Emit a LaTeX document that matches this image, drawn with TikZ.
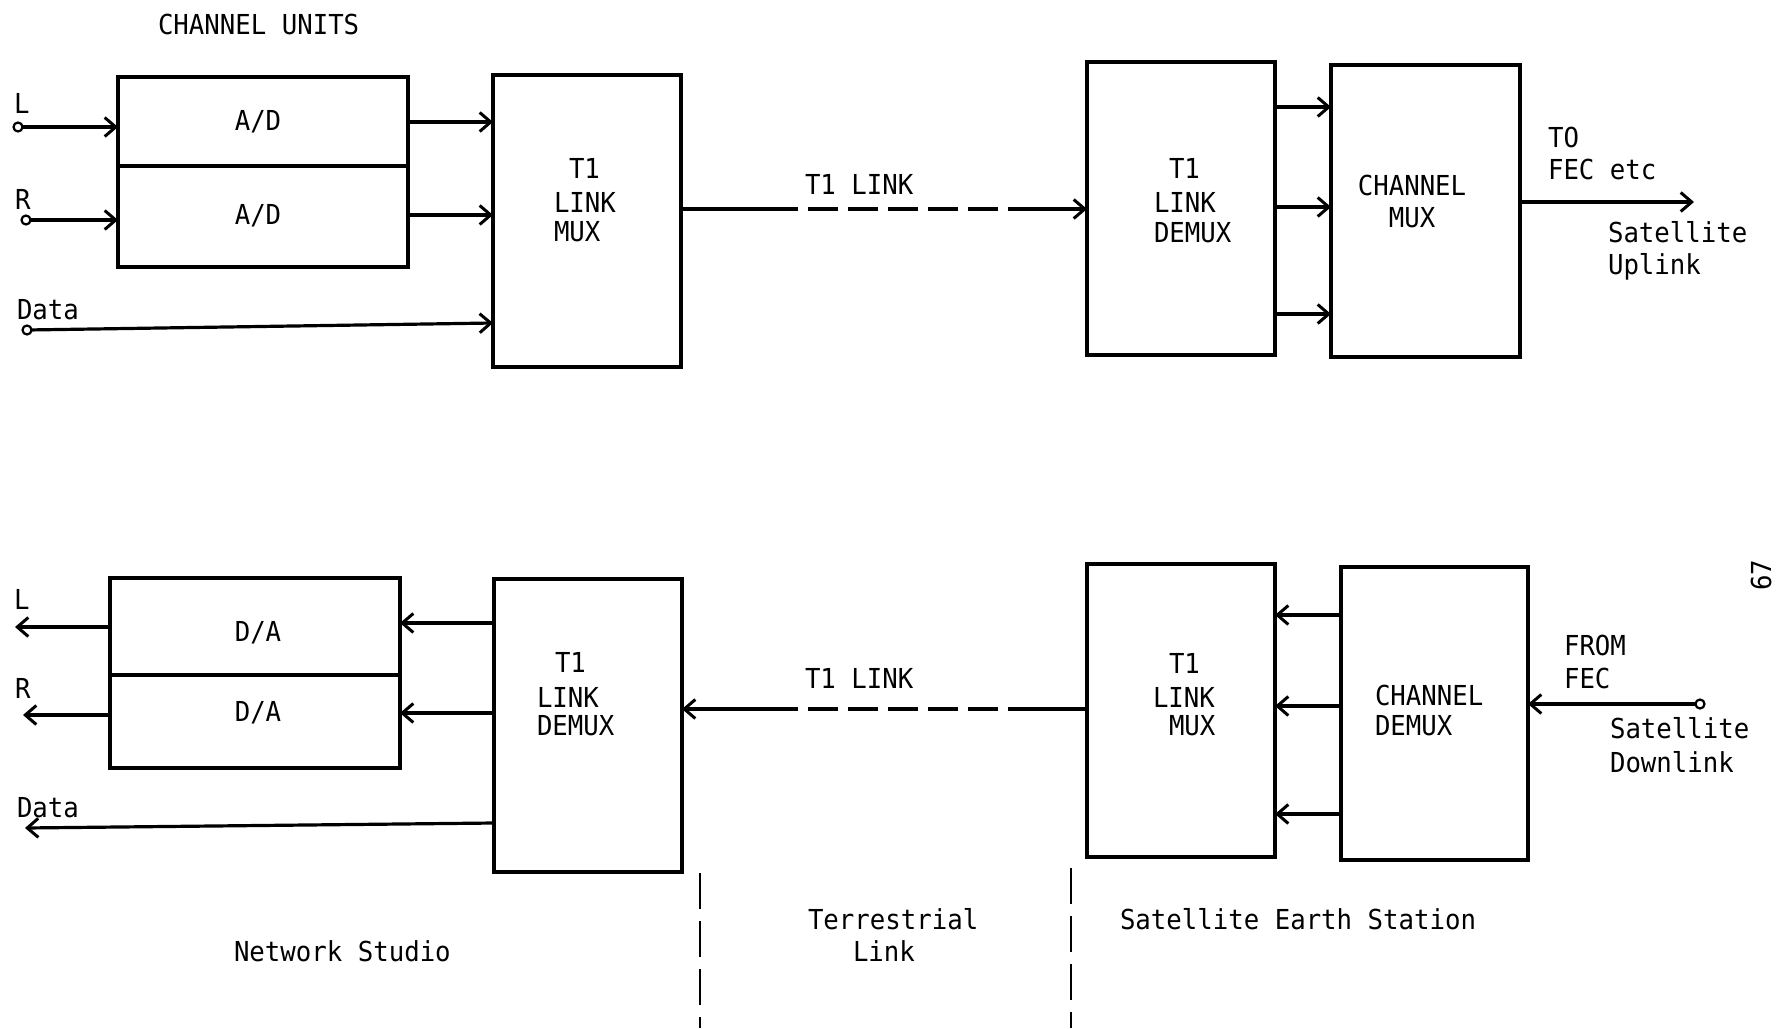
\documentclass[tikz,border=0pt]{standalone}
\usepackage{fontspec}
\setmainfont{DejaVu Sans Mono}[FakeStretch=0.935]
\usetikzlibrary{arrows.meta}
\begin{document}
\begin{tikzpicture}[x=1pt,y=-1pt,
  lbl/.style={font=\fontsize{27.5pt}{31pt}\selectfont, inner sep=0pt, outer sep=0pt},
  box/.style={draw, line width=3.4pt, inner sep=0pt, outer sep=0pt},
  wire/.style={line width=3.2pt},
  arr/.style={wire, -{Straight Barb[length=11pt,width=19pt,line width=3pt]}},
  term/.style={circle, draw, line width=2.2pt, minimum size=9pt, inner sep=0pt, outer sep=0pt},
  linkdash/.style={wire, dash pattern=on 30pt off 10pt},
  sepline/.style={line width=2.8pt, dash pattern=on 36pt off 12pt}]
\fill[white] (0,0) rectangle (1777,1028);
\useasboundingbox (0,0) rectangle (1777,1028);

% ---------- top row boxes ----------
\node[box, minimum width=290pt, minimum height=190pt] (ad) at (263,172) {};
\node[box, minimum width=188pt, minimum height=292pt] (mux1) at (587,221) {};
\node[box, minimum width=188pt, minimum height=293pt] (demux1) at (1181,208.5) {};
\node[box, minimum width=189pt, minimum height=292pt] (chmux) at (1425.5,211) {};
\coordinate (yADdiv) at (0,166);
\draw[line width=3.4pt] (ad.west |- yADdiv) -- (ad.east |- yADdiv);

% ---------- bottom row boxes ----------
\node[box, minimum width=290pt, minimum height=190pt] (da) at (255,673) {};
\node[box, minimum width=188pt, minimum height=293pt] (demux2) at (588,725.5) {};
\node[box, minimum width=188pt, minimum height=293pt] (mux2) at (1181,710.5) {};
\node[box, minimum width=187pt, minimum height=293pt] (chdemux) at (1434.5,713.5) {};
\coordinate (yDAdiv) at (0,675);
\draw[line width=3.4pt] (da.west |- yDAdiv) -- (da.east |- yDAdiv);

% ---------- top connectors ----------
\node[term] (tL) at (18,127) {};
\draw[arr] (tL) -- (tL -| ad.west);
\node[term] (tR) at (26,220) {};
\draw[arr] (tR) -- (tR -| ad.west);
\node[term] (tD) at (27,330) {};
\coordinate (yDin) at (0,323);
\draw[arr] (tD) -- (mux1.west |- yDin);
\coordinate (yA1) at (0,122);
\coordinate (yA2) at (0,215);
\draw[arr] (ad.east |- yA1) -- (mux1.west |- yA1);
\draw[arr] (ad.east |- yA2) -- (mux1.west |- yA2);
% T1 link (top)
\coordinate (l1a) at (798,209);
\coordinate (l1b) at (808,209);
\coordinate (l1c) at (998,209);
\coordinate (l1d) at (1008,209);
\draw[wire] (mux1.east |- l1a) -- (l1a);
\draw[linkdash] (l1b) -- (l1c);
\draw[arr] (l1d) -- (l1d -| demux1.west);
% demux -> channel mux
\coordinate (yC1) at (0,107);
\coordinate (yC2) at (0,207);
\coordinate (yC3) at (0,314);
\draw[arr] (demux1.east |- yC1) -- (chmux.west |- yC1);
\draw[arr] (demux1.east |- yC2) -- (chmux.west |- yC2);
\draw[arr] (demux1.east |- yC3) -- (chmux.west |- yC3);
\coordinate (up) at (1694,202);
\draw[arr] (chmux.east |- up) -- (up);

% ---------- bottom connectors ----------
\coordinate (oL) at (15,627);
\coordinate (oR) at (23,715);
\coordinate (oD) at (25,828);
\draw[arr] (da.west |- oL) -- (oL);
\draw[arr] (da.west |- oR) -- (oR);
\coordinate (yDout) at (0,823);
\draw[arr] (demux2.west |- yDout) -- (oD);
\coordinate (yB1) at (0,623);
\coordinate (yB2) at (0,713);
\draw[arr] (demux2.west |- yB1) -- (da.east |- yB1);
\draw[arr] (demux2.west |- yB2) -- (da.east |- yB2);
% T1 link (bottom)
\coordinate (l2a) at (1008,709);
\coordinate (l2b) at (998,709);
\coordinate (l2c) at (808,709);
\coordinate (l2d) at (798,709);
\draw[wire] (mux2.west |- l2a) -- (l2a);
\draw[linkdash] (l2b) -- (l2c);
\draw[arr] (l2d) -- (l2d -| demux2.east);
% channel demux -> mux
\coordinate (yE1) at (0,615);
\coordinate (yE2) at (0,706);
\coordinate (yE3) at (0,814);
\draw[arr] (chdemux.west |- yE1) -- (mux2.east |- yE1);
\draw[arr] (chdemux.west |- yE2) -- (mux2.east |- yE2);
\draw[arr] (chdemux.west |- yE3) -- (mux2.east |- yE3);
\node[term] (tin) at (1700,704) {};
\draw[arr] (tin) -- (tin -| chdemux.east);

% ---------- region separators ----------
\coordinate (s1a) at (700,873);
\coordinate (s1b) at (700,1028);
\coordinate (s2a) at (1071,868);
\coordinate (s2b) at (1071,1028);
\draw[sepline] (s1a) -- (s1b);
\draw[sepline] (s2a) -- (s2b);

% ---------- top labels ----------
\node[lbl, anchor=base west] (tCU) at (158,34) {CHANNEL UNITS};
\node[lbl, anchor=base west] (tLl) at (14,113) {L};
\node[lbl, anchor=base west] (tRl) at (15,209) {R};
\node[lbl, anchor=base west] (tDl) at (17,319) {Data};
\node[lbl, anchor=base] (tAD1) at (258,130) {A/D};
\node[lbl, anchor=base] (tAD2) at (258,224) {A/D};
\node[lbl, anchor=base west] (m1a) at (569,178) {T1};
\node[lbl, anchor=base west] (m1b) at (554,212) {LINK};
\node[lbl, anchor=base west] (m1c) at (554,241) {MUX};
\node[lbl, anchor=base west] (lk1) at (805,194) {T1 LINK};
\node[lbl, anchor=base west] (d1a) at (1169,178) {T1};
\node[lbl, anchor=base west] (d1b) at (1154,212) {LINK};
\node[lbl, anchor=base west] (d1c) at (1154,242) {DEMUX};
\node[lbl, anchor=base] (c1a) at (1412,195) {CHANNEL};
\node[lbl, anchor=base] (c1b) at (1412,227) {MUX};
\node[lbl, anchor=base west] (to1) at (1548,147) {TO};
\node[lbl, anchor=base west] (to2) at (1548,179) {FEC etc};
\node[lbl, anchor=base west] (su1) at (1608,242) {Satellite};
\node[lbl, anchor=base west] (su2) at (1608,274) {Uplink};

% ---------- bottom labels ----------
\node[lbl, anchor=base west] (bLl) at (14,609) {L};
\node[lbl, anchor=base west] (bRl) at (15,698) {R};
\node[lbl, anchor=base west] (bDl) at (17,817) {Data};
\node[lbl, anchor=base] (tDA1) at (258,641) {D/A};
\node[lbl, anchor=base] (tDA2) at (258,721) {D/A};
\node[lbl, anchor=base west] (d2a) at (555,672) {T1};
\node[lbl, anchor=base west] (d2b) at (537,707) {LINK};
\node[lbl, anchor=base west] (d2c) at (537,735) {DEMUX};
\node[lbl, anchor=base west] (lk2) at (805,688) {T1 LINK};
\node[lbl, anchor=base west] (m2a) at (1169,673) {T1};
\node[lbl, anchor=base west] (m2b) at (1153,707) {LINK};
\node[lbl, anchor=base west] (m2c) at (1169,735) {MUX};
\node[lbl, anchor=base west] (c2a) at (1375,705) {CHANNEL};
\node[lbl, anchor=base west] (c2b) at (1375,735) {DEMUX};
\node[lbl, anchor=base west] (fr1) at (1564,655) {FROM};
\node[lbl, anchor=base west] (fr2) at (1564,688) {FEC};
\node[lbl, anchor=base west] (sd1) at (1610,738) {Satellite};
\node[lbl, anchor=base west] (sd2) at (1610,772) {Downlink};

% ---------- region labels ----------
\node[lbl, anchor=base west] (rNS) at (234,961) {Network Studio};
\node[lbl, anchor=base west] (rTL1) at (808,929) {Terrestrial};
\node[lbl, anchor=base west] (rTL2) at (853,961) {Link};
\node[lbl, anchor=base west] (rSE) at (1120,929) {Satellite Earth Station};
\node[lbl, rotate=90] (pg) at (1761,575) {67};
\end{tikzpicture}
\end{document}
